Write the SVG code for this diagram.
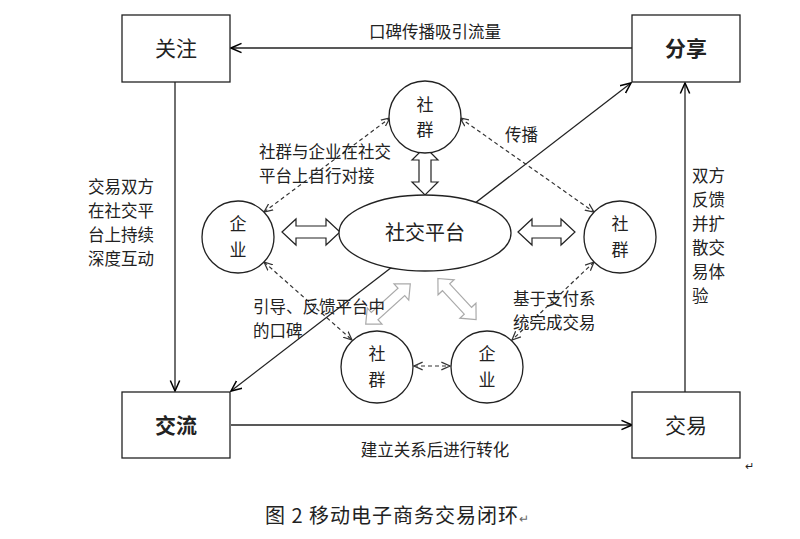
<svg xmlns="http://www.w3.org/2000/svg" width="800" height="539" viewBox="0 0 800 539">
<defs>
<marker id="a" viewBox="0 0 10 10" refX="9" refY="5" markerWidth="9" markerHeight="9" orient="auto-start-reverse"><path d="M0,1 L9,5 L0,9" fill="none" stroke="#000" stroke-width="1.3"/></marker>
<marker id="d" viewBox="0 0 10 10" refX="9" refY="5" markerWidth="8" markerHeight="8" orient="auto-start-reverse"><path d="M0,1 L9,5 L0,9" fill="none" stroke="#333" stroke-width="1.3"/></marker>
</defs>
<style>
text{font-family:"Noto Sans CJK SC",sans-serif;fill:#222}
.box{fill:#fff;stroke:#222;stroke-width:1.3}
.c{fill:#fff;stroke:#222;stroke-width:1.3}
.ln{stroke:#222;stroke-width:1.3;fill:none}
.ds{stroke:#333;stroke-width:1.2;stroke-dasharray:4,3;fill:none}
.t{font-size:16.5px}
.hb{fill:#fff;stroke:#222;stroke-width:1.2}
.hg{fill:#fff;stroke:#aaa;stroke-width:1.2}
</style>
<rect width="800" height="539" fill="#fff"/>
<g id="connectors">
<line class="ln" x1="632" y1="48" x2="231" y2="48" marker-end="url(#a)"/>
<line class="ln" x1="231" y1="425" x2="632" y2="425" marker-end="url(#a)"/>
<line class="ln" x1="175" y1="82" x2="175" y2="391" marker-end="url(#a)"/>
<line class="ln" x1="685" y1="392" x2="685" y2="83" marker-end="url(#a)"/>
<line class="ln" x1="231" y1="391" x2="631" y2="83" marker-start="url(#a)" marker-end="url(#a)"/>
<line class="ds" x1="264" y1="212" x2="390" y2="118" marker-start="url(#d)" marker-end="url(#d)"/>
<line class="ds" x1="460" y1="118" x2="594" y2="212" marker-start="url(#d)" marker-end="url(#d)"/>
<line class="ds" x1="264" y1="262" x2="352" y2="340" marker-start="url(#d)" marker-end="url(#d)"/>
<line class="ds" x1="594" y1="262" x2="512" y2="340" marker-start="url(#d)" marker-end="url(#d)"/>
<line class="ds" x1="414" y1="366" x2="450" y2="366" marker-start="url(#d)" marker-end="url(#d)"/>
<path class="hb" d="M425,147 L438,160 L431,160 L431,182 L438,182 L425,195 L412,182 L419,182 L419,160 L412,160 Z"/>
<path class="hb" d="M282,232 L296,219 L296,226 L326,226 L326,219 L340,232 L326,245 L326,238 L296,238 L296,245 Z"/>
<path class="hb" d="M518,232 L532,219 L532,226 L561,226 L561,219 L575,232 L561,245 L561,238 L532,238 L532,245 Z"/>
<path class="hg" transform="translate(388,304) rotate(-42)" d="M-30,0 L-18,-11 L-18,-5 L18,-5 L18,-11 L30,0 L18,11 L18,5 L-18,5 L-18,11 Z"/>
<path class="hg" transform="translate(457,299) rotate(47)" d="M-28,0 L-16,-11 L-16,-5 L16,-5 L16,-11 L28,0 L16,11 L16,5 L-16,5 L-16,11 Z"/>
</g>
<g id="n-guanzhu"><rect class="box" x="122" y="15" width="108" height="67"/><text x="176" y="56" font-size="21" text-anchor="middle">关注</text></g>
<g id="n-fenxiang"><rect class="box" x="632" y="15" width="108" height="67"/><text x="686" y="56" font-size="21" font-weight="bold" text-anchor="middle">分享</text></g>
<g id="n-jiaoliu"><rect class="box" x="122" y="392" width="108" height="66"/><text x="176" y="433" font-size="21" font-weight="bold" text-anchor="middle">交流</text></g>
<g id="n-jiaoyi"><rect class="box" x="632" y="392" width="108" height="66"/><text x="686" y="433" font-size="21" text-anchor="middle">交易</text></g>
<g id="n-platform"><ellipse class="c" cx="425" cy="233" rx="86" ry="38"/><text x="425" y="240" font-size="20" text-anchor="middle">社交平台</text></g>
<g id="n-top"><circle class="c" cx="425" cy="117" r="36"/><text x="425" y="111" font-size="17" text-anchor="middle">社</text><text x="425" y="136" font-size="17" text-anchor="middle">群</text></g>
<g id="n-left"><circle class="c" cx="238" cy="237" r="36"/><text x="238" y="230" font-size="17" text-anchor="middle">企</text><text x="238" y="256" font-size="17" text-anchor="middle">业</text></g>
<g id="n-right"><circle class="c" cx="620" cy="237" r="36"/><text x="620" y="230" font-size="17" text-anchor="middle">社</text><text x="620" y="256" font-size="17" text-anchor="middle">群</text></g>
<g id="n-bl"><circle class="c" cx="377" cy="367" r="36"/><text x="377" y="360" font-size="17" text-anchor="middle">社</text><text x="377" y="386" font-size="17" text-anchor="middle">群</text></g>
<g id="n-br"><circle class="c" cx="487" cy="367" r="36"/><text x="487" y="360" font-size="17" text-anchor="middle">企</text><text x="487" y="386" font-size="17" text-anchor="middle">业</text></g>
<g id="labels">
<text x="435" y="38" class="t" text-anchor="middle">口碑传播吸引流量</text>
<text x="435" y="456" class="t" text-anchor="middle">建立关系后进行转化</text>
<text class="t" x="88" y="193">交易双方</text>
<text class="t" x="88" y="217">在社交平</text>
<text class="t" x="88" y="241">台上持续</text>
<text class="t" x="88" y="265">深度互动</text>
<text class="t" x="692" y="182">双方</text>
<text class="t" x="692" y="206">反馈</text>
<text class="t" x="692" y="230">并扩</text>
<text class="t" x="692" y="254">散交</text>
<text class="t" x="692" y="278">易体</text>
<text class="t" x="692" y="302">验</text>
<text class="t" x="259" y="158">社群与企业在社交</text>
<text class="t" x="259" y="182">平台上自行对接</text>
<text class="t" x="505" y="141">传播</text>
<text class="t" x="253" y="313">引导、反馈平台中</text>
<text class="t" x="253" y="337">的口碑</text>
<text class="t" x="513" y="305">基于支付系</text>
<text class="t" x="513" y="329">统完成交易</text>
<text x="745" y="470" font-size="11" fill="#666">↵</text>
<text x="265" y="523" font-size="20" letter-spacing="1">图 2  移动电子商务交易闭环<tspan font-size="12" fill="#666">↵</tspan></text>
</g>
</svg>
